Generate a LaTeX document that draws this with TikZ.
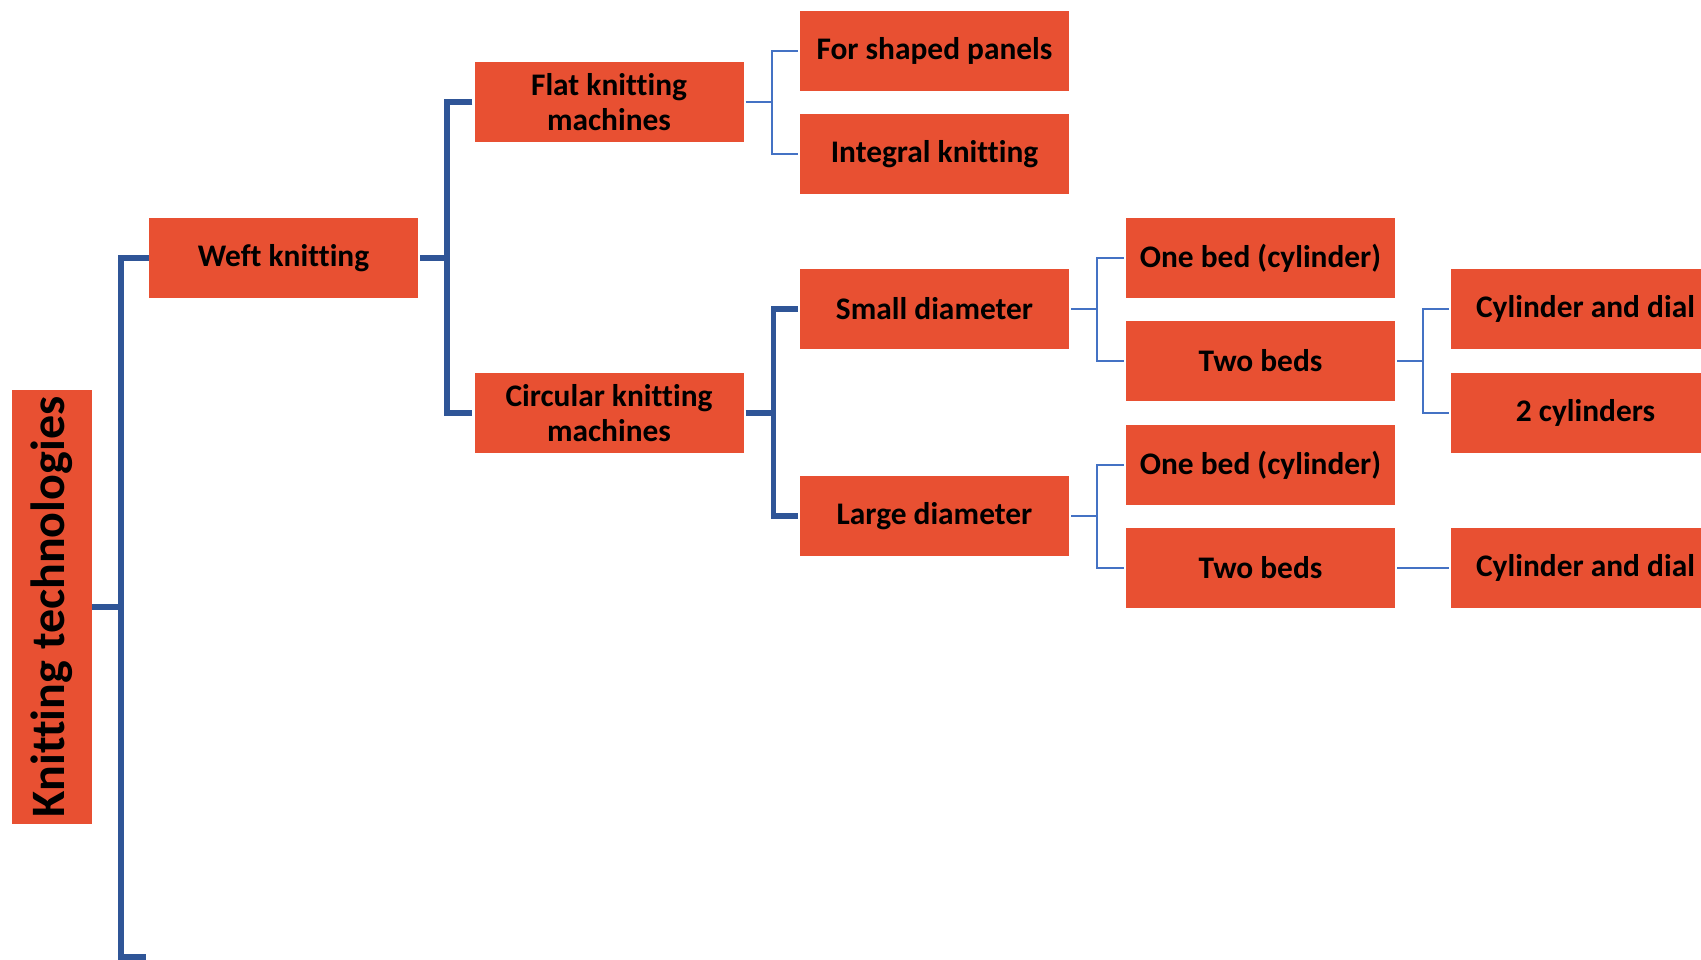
\documentclass[tikz,border=0pt]{standalone}
\usepackage{fontspec}
\setmainfont{Carlito}[Ligatures=NoCommon]
\definecolor{boxfill}{RGB}{232,80,50}
\definecolor{trunkblue}{RGB}{47,85,151}
\definecolor{thinblue}{RGB}{68,114,196}
\tikzset{
  box/.style={fill=boxfill, minimum width=269pt, minimum height=80pt, inner sep=0pt,
    align=center, font=\bfseries\fontsize{31.4}{35}\selectfont},
  trunk/.style={draw=trunkblue, line width=6pt},
  branch/.style={draw=trunkblue, line width=5.5pt, shorten <=2pt, shorten >=2pt},
  twig/.style={draw=thinblue, line width=2pt, shorten <=2pt, shorten >=2pt}
}
\begin{document}
\begin{tikzpicture}[x=1pt,y=-1pt]
\useasboundingbox (0,0) rectangle (1701,959);
\clip (0,0) rectangle (1701,959);

% root, set vertically (its south side faces right)
\node[box, rotate=90, minimum width=434pt, minimum height=80pt,
  font=\bfseries\fontsize{48}{52}\selectfont] (root) at (52,607) {Knitting technologies};

% first level
\node[box] (weft) at (283.5,258) {Weft knitting};

% machine types
\node[box] (flat) at (609,102) {Flat knitting\\machines};
\node[box] (circ) at (609,413) {Circular knitting\\machines};

% third column
\node[box] (shaped) at (934.5,51) {For shaped panels};
\node[box] (integral) at (934.5,154) {Integral knitting};
\node[box] (small) at (934.5,309) {Small diameter};
\node[box] (large) at (934.5,516) {Large diameter};

% beds
\node[box] (onebedA) at (1260.5,258) {One bed (cylinder)};
\node[box] (twobedsA) at (1260.5,361) {Two beds};
\node[box] (onebedB) at (1260.5,465) {One bed (cylinder)};
\node[box] (twobedsB) at (1260.5,568) {Two beds};

% bed arrangements
\node[box] (cylA) at (1585.5,309) {Cylinder and dial};
\node[box] (twocyl) at (1585.5,413) {2 cylinders};
\node[box] (cylB) at (1585.5,568) {Cylinder and dial};

% main trunk
\coordinate (rootend) at (146,957);
\draw[trunk] (weft.west) -- ++(-27.5,0) |- (rootend);
\draw[trunk] (root.south) -- ++(29,0);

% weft knitting branches
\draw[branch, shorten >=0pt] (weft.east) -- ++(29,0) coordinate (jw);
\draw[branch] (flat.west) -| (jw) |- (circ.west);

% circular branches
\draw[branch, shorten >=0pt] (circ.east) -- ++(30,0) coordinate (jc);
\draw[branch] (small.west) -| (jc) |- (large.west);

% flat branches
\draw[twig, shorten >=0pt] (flat.east) -- ++(28,0) coordinate (jf);
\draw[twig] (shaped.west) -| (jf) |- (integral.west);

% diameter branches
\draw[twig, shorten >=0pt] (small.east) -- ++(28,0) coordinate (js);
\draw[twig] (onebedA.west) -| (js) |- (twobedsA.west);
\draw[twig, shorten >=0pt] (large.east) -- ++(28,0) coordinate (jl);
\draw[twig] (onebedB.west) -| (jl) |- (twobedsB.west);

% two beds branches
\draw[twig, shorten >=0pt] (twobedsA.east) -- ++(28,0) coordinate (jt);
\draw[twig] (cylA.west) -| (jt) |- (twocyl.west);
\draw[twig] (twobedsB.east) -- (cylB.west);
\end{tikzpicture}
\end{document}
